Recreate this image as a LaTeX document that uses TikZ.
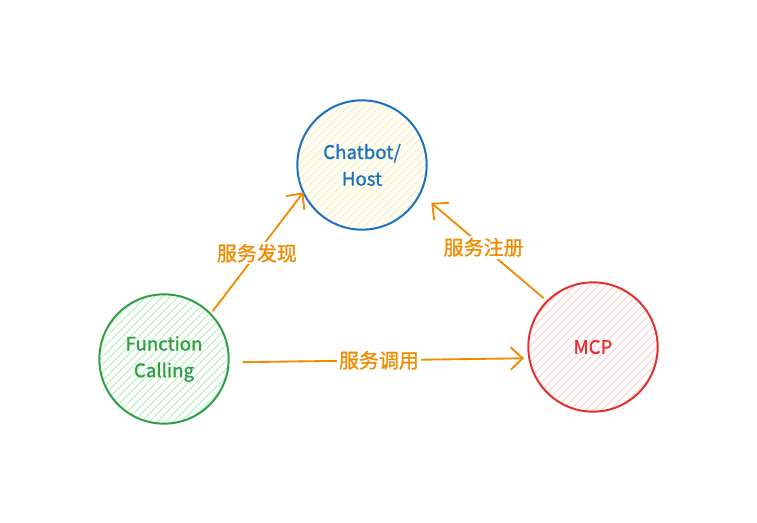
\documentclass[tikz,border=0pt]{standalone}
\usepackage{fontspec}
\setmainfont{Noto Sans CJK SC}[FakeBold=1.2]
\usetikzlibrary{arrows.meta,calc}

\definecolor{hostblue}{HTML}{1971C2}
\definecolor{fcgreen}{HTML}{2F9E44}
\definecolor{mcpred}{HTML}{E03131}
\definecolor{linkorange}{HTML}{F08C00}
\definecolor{hatchyellow}{HTML}{FFEC99}
\definecolor{hatchgreen}{HTML}{B2F2BB}
\definecolor{hatchred}{HTML}{FFC9C9}

\tikzset{
  party/.style 2 args={circle, draw=#1, line width=1.5pt, minimum size=97pt,
    inner sep=0pt, outer sep=0pt, text=#1, align=center,
    font=\fontsize{14pt}{20pt}\selectfont,
    % diagonal hatching inside the circle
    path picture={
      \foreach \k in {-13,...,13}
        \draw[#2, line width=0.7pt]
          ($(path picture bounding box.center)+(\k*8-100,100)$) -- ++(200,-200);
    }},
  link/.style={draw=linkorange, line width=1.4pt, line cap=round,
    -{Straight Barb[length=9pt, width=17pt, line width=1.4pt]}},
  linklabel/.style={fill=white, text=linkorange, inner sep=1.5pt,
    font=\fontsize{15pt}{17pt}\selectfont}
}

\begin{document}
\begin{tikzpicture}[x=0.75pt, y=-0.75pt]
    % page frame in pixels of the reference (757 x 523)
    \useasboundingbox (0,0) rectangle (757,523);

    % the three parties
    \node[party={hostblue}{hatchyellow}] (host) at (362,165) {Chatbot/\\Host};
    \node[party={fcgreen}{hatchgreen}] (fc) at (164,359) {Function\\Calling};
    \node[party={mcpred}{hatchred}] (mcp) at (593,347) {MCP};

    % links between the parties
    \draw[link, shorten <=3pt] (fc.44) -- (host.205)
      node[midway, linklabel] {服务发现};
    \draw[link, shorten <=4pt, shorten >=11pt] (mcp.135) -- (host.-26)
      node[midway, linklabel] {服务注册};
    \draw[link, shorten <=11pt, shorten >=4pt] (fc.-3) -- (mcp.190)
      node[midway, linklabel] {服务调用};

  \end{tikzpicture}
\end{document}
